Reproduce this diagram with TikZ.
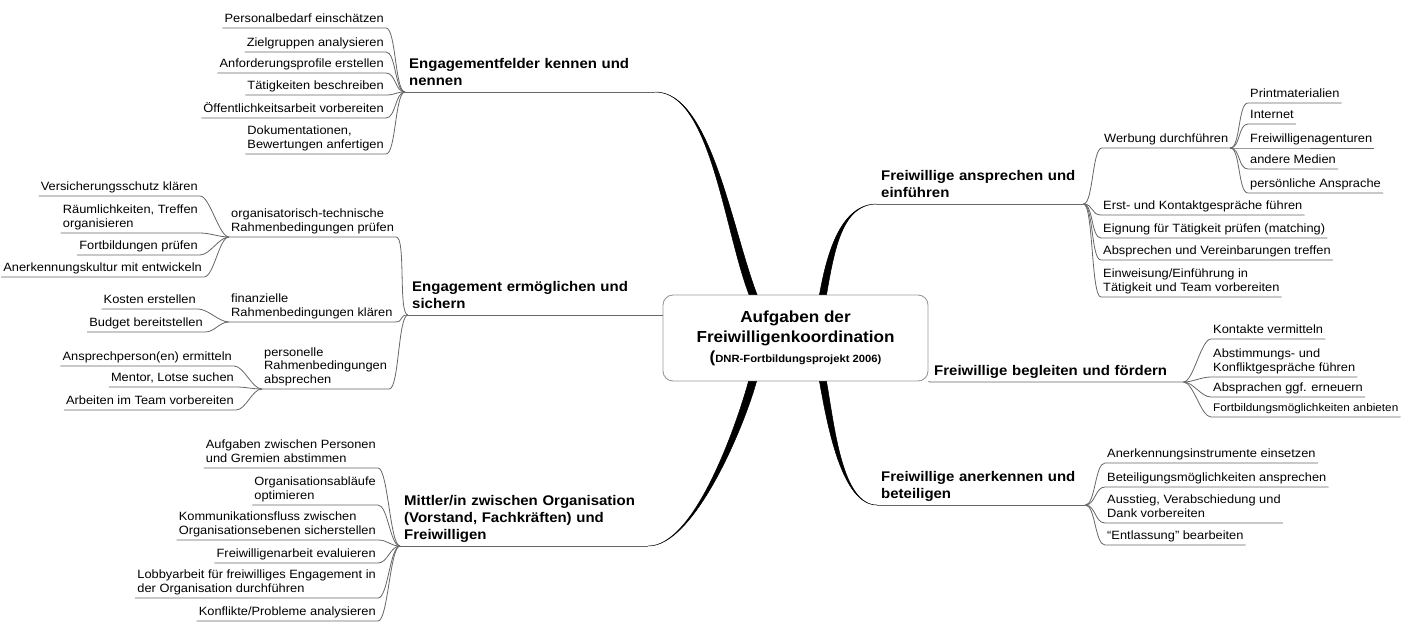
\documentclass[tikz,border=0pt]{standalone}
\usepackage{fontspec}
\setmainfont{Liberation Sans}[FakeStretch=1.07]
\usetikzlibrary{calc}
\newcommand\linkL[2]{\draw[link] (#2.south west) -- (#2.south east) .. controls +(10,0) and +(-10,0) .. (#1.south west);}
\newcommand\linkR[2]{\draw[link] (#1.south east) .. controls +(10,0) and +(-10,0) .. (#2.south west) -- (#2.south east);}
\begin{document}
\begin{tikzpicture}[x=1pt,y=-1pt,
 leaf/.style={font=\fontsize{12}{13.5}\selectfont, align=left, inner xsep=2pt, inner ysep=1.5pt, execute at end node=\strut},
 branch/.style={font=\fontsize{14}{17}\selectfont\bfseries, align=left, inner xsep=4pt, inner ysep=1pt, execute at end node=\strut},
 link/.style={draw=black!60, line width=0.8pt},
 heavy/.style={fill=black, draw=black, line width=0.5pt},
]
\useasboundingbox (0,0) rectangle (1411,623);
\clip (0,0) rectangle (1411,623);

% central box
\node[draw=black!40, line width=0.9pt, rounded corners=10pt, minimum width=265pt, minimum height=86pt,
      align=center, font=\fontsize{16}{20}\selectfont\bfseries] (M) at (795.5,338)
 {Aufgaben der\\Freiwilligenkoordination\\{\fontsize{10.5}{14}\selectfont{\fontsize{16}{14}\selectfont(}DNR-Fortbildungsprojekt 2006)}};
\coordinate (mA) at ($(M.north)+(-42.5,0)$);
\coordinate (mD) at ($(M.north)+(27.5,0)$);
\coordinate (mC) at ($(M.south)+(-43,0)$);
\coordinate (mF) at ($(M.south)+(27.5,0)$);

% ---------- branch A ----------
\node[branch, text width=242pt, anchor=south west] (A) at (405,92) {Engagementfelder kennen und\\nennen};
\node[leaf, anchor=south east] (a1) at (386,28) {Personalbedarf einschätzen};
\node[leaf, anchor=south east] (a2) at (386,52) {Zielgruppen analysieren};
\node[leaf, anchor=south east] (a3) at (386,73) {Anforderungsprofile erstellen};
\node[leaf, anchor=south east] (a4) at (386,95) {Tätigkeiten beschreiben};
\node[leaf, anchor=south east] (a5) at (386,118) {Öffentlichkeitsarbeit vorbereiten};
\node[leaf, anchor=south east] (a6) at (386,154) {Dokumentationen,\\Bewertungen anfertigen};
\draw[link] (A.south west) -- (A.south east);
\foreach \n in {a1,a2,a3,a4,a5,a6} {\linkL{A}{\n}}
\fill[heavy] (A.south east) .. controls +(55,0) and +(-25,-65) .. ($(mA)+(4,0)$) -- ($(mA)+(-4,0)$) .. controls +(-25,-65) and +(55,0) .. (A.south east);

% ---------- branch B ----------
\node[branch, text width=222pt, anchor=south west] (B) at (408,315) {Engagement ermöglichen und\\sichern};
\draw[link] (B.south west) -- (M.west |- B.south);
\node[leaf, anchor=south west] (B1) at (229,237) {organisatorisch-technische\\Rahmenbedingungen prüfen};
\node[leaf, anchor=south west] (B2) at (229,322) {finanzielle\\Rahmenbedingungen klären};
\node[leaf, anchor=south west] (B3) at (262,389) {personelle\\Rahmenbedingungen\\absprechen};
\foreach \n in {B1,B2,B3} {\linkL{B}{\n}}
\node[leaf, anchor=south east] (b11) at (200,196) {Versicherungsschutz klären};
\node[leaf, anchor=south east] (b12) at (200,233) {Räumlichkeiten, Treffen\\organisieren};
\node[leaf, anchor=south east] (b13) at (200,255) {Fortbildungen prüfen};
\node[leaf, anchor=south east] (b14) at (204,277) {Anerkennungskultur mit entwickeln};
\foreach \n in {b11,b12,b13,b14} {\linkL{B1}{\n}}
\node[leaf, anchor=south east] (b21) at (198,309) {Kosten erstellen};
\node[leaf, anchor=south east] (b22) at (205,332) {Budget bereitstellen};
\foreach \n in {b21,b22} {\linkL{B2}{\n}}
\node[leaf, anchor=south east] (b31) at (234,366) {Ansprechperson(en) ermitteln};
\node[leaf, anchor=south east] (b32) at (236,387) {Mentor, Lotse suchen};
\node[leaf, anchor=south east] (b33) at (236,410) {Arbeiten im Team vorbereiten};
\foreach \n in {b31,b32,b33} {\linkL{B3}{\n}}

% ---------- branch C ----------
\node[branch, text width=240pt, anchor=south west] (C) at (400,546) {Mittler/in zwischen Organisation\\(Vorstand, Fachkräften) und\\Freiwilligen};
\draw[link] (C.south west) -- (C.south east);
\node[leaf, anchor=south east] (c1) at (378,468) {Aufgaben zwischen Personen\\und Gremien abstimmen};
\node[leaf, anchor=south east] (c2) at (378,505) {Organisationsabläufe\\optimieren};
\node[leaf, anchor=south east] (c3) at (378,540) {Kommunikationsfluss zwischen\\Organisationsebenen sicherstellen};
\node[leaf, anchor=south east] (c4) at (378,563) {Freiwilligenarbeit evaluieren};
\node[leaf, anchor=south east] (c5) at (378,598) {Lobbyarbeit für freiwilliges Engagement in\\der Organisation durchführen};
\node[leaf, anchor=south east] (c6) at (378,621) {Konflikte/Probleme analysieren};
\foreach \n in {c1,c2,c3,c4,c5,c6} {\linkL{C}{\n}}
\fill[heavy] ($(mC)+(-4,0)$) .. controls +(-14,50) and +(45,0) .. (C.south east) .. controls +(45,0) and +(-14,50) .. ($(mC)+(4,0)$) -- cycle;

% ---------- branch D ----------
\node[branch, text width=198pt, anchor=south west] (D) at (877,204) {Freiwillige ansprechen und\\einführen};
\draw[link] (D.south west) -- (D.south east);
\fill[heavy] ($(mD)+(-3.5,0)$) .. controls +(8,-45) and +(-35,0) .. (D.south west) .. controls +(-35,0) and +(8,-45) .. ($(mD)+(3.5,0)$) -- cycle;
\node[leaf, anchor=south west] (D1) at (1102,148) {Werbung durchführen};
\node[leaf, anchor=south west] (d2) at (1101,215) {Erst- und Kontaktgespräche führen};
\node[leaf, anchor=south west] (d3) at (1101,238) {Eignung für Tätigkeit prüfen (matching)};
\node[leaf, anchor=south west] (d4) at (1101,260) {Absprechen und Vereinbarungen treffen};
\node[leaf, anchor=south west] (d5) at (1101,297) {Einweisung/Einführung in\\Tätigkeit und Team vorbereiten};
\foreach \n in {D1,d2,d3,d4,d5} {\linkR{D}{\n}}
\node[leaf, anchor=south west] (d11) at (1248,103) {Printmaterialien};
\node[leaf, anchor=south west] (d12) at (1248,124) {Internet};
\node[leaf, anchor=south west] (d13) at (1248,148) {Freiwilligenagenturen};
\node[leaf, anchor=south west] (d14) at (1248,169) {andere Medien};
\node[leaf, anchor=south west] (d15) at (1248,193) {persönliche Ansprache};
\foreach \n in {d11,d12,d13,d14,d15} {\linkR{D1}{\n}}

% ---------- branch E ----------
\node[branch, text width=245pt, anchor=south west] (E) at (930,382) {Freiwillige begleiten und fördern};
\draw[link] (M.south east) -- (E.south west) -- (E.south east);
\node[leaf, anchor=south west] (e1) at (1211,339) {Kontakte vermitteln};
\node[leaf, anchor=south west] (e2) at (1211,377) {Abstimmungs- und\\Konfliktgespräche führen};
\node[leaf, anchor=south west] (e3) at (1211,397) {Absprachen ggf. erneuern};
\node[leaf, anchor=south west, font=\fontsize{11}{13.5}\selectfont] (e4) at (1211,417) {Fortbildungsmöglichkeiten anbieten};
\foreach \n in {e1,e2,e3,e4} {\linkR{E}{\n}}

% ---------- branch F ----------
\node[branch, text width=200pt, anchor=south west] (F) at (877,505) {Freiwillige anerkennen und\\beteiligen};
\draw[link] (F.south west) -- (F.south east);
\fill[heavy] ($(mF)+(-3.5,0)$) .. controls +(8,45) and +(-35,0) .. (F.south west) .. controls +(-35,0) and +(8,45) .. ($(mF)+(3.5,0)$) -- cycle;
\node[leaf, anchor=south west] (f1) at (1105,463) {Anerkennungsinstrumente einsetzen};
\node[leaf, anchor=south west] (f2) at (1105,487) {Beteiligungsmöglichkeiten ansprechen};
\node[leaf, anchor=south west] (f3) at (1105,523) {Ausstieg, Verabschiedung und\\Dank vorbereiten};
\node[leaf, anchor=south west] (f4) at (1105,545) {“Entlassung” bearbeiten};
\foreach \n in {f1,f2,f3,f4} {\linkR{F}{\n}}
\end{tikzpicture}
\end{document}
